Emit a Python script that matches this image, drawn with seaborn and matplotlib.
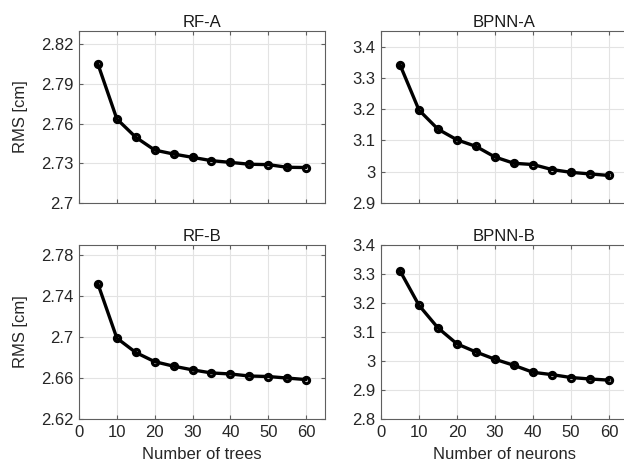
import numpy as np
import pandas as pd
import matplotlib
matplotlib.use("Agg")
import matplotlib.pyplot as plt
import seaborn as sns

n_values = [5, 10, 15, 20, 25, 30, 35, 40, 45, 50, 55, 60]
rf_a = [2.805, 2.7635, 2.7497, 2.740, 2.737, 2.7345, 2.732, 2.7307, 2.7293, 2.729, 2.727, 2.7268]
bpnn_a = [3.342, 3.197, 3.136, 3.102, 3.081, 3.047, 3.027, 3.023, 3.007, 2.998, 2.993, 2.988]
rf_b = [2.752, 2.699, 2.685, 2.676, 2.6716, 2.668, 2.665, 2.664, 2.662, 2.6615, 2.660, 2.6585]
bpnn_b = [3.311, 3.192, 3.114, 3.059, 3.031, 3.006, 2.985, 2.961, 2.953, 2.943, 2.938, 2.934]

titles = ["RF-A", "BPNN-A", "RF-B", "BPNN-B"]
xlabels = [None, None, "Number of trees", "Number of neurons"]
ylabels = ["RMS [cm]", None, "RMS [cm]", None]
yticks_list = [
    [2.7, 2.73, 2.76, 2.79, 2.82],
    [2.9, 3.0, 3.1, 3.2, 3.3, 3.4],
    [2.62, 2.66, 2.7, 2.74, 2.78],
    [2.8, 2.9, 3.0, 3.1, 3.2, 3.3, 3.4],
]
ylims = [(2.7, 2.83), (2.9, 3.45), (2.62, 2.79), (2.8, 3.4)]
xticks = [0, 10, 20, 30, 40, 50, 60]

sns.set_theme(style="white")
plt.rcParams["font.family"] = ["Liberation Sans", "DejaVu Sans"]

fig = plt.figure(figsize=(6.24, 4.69), dpi=100)
positions = [
    [79 / 624, 1 - 203 / 469, 246 / 624, 172 / 469],
    [381 / 624, 1 - 203 / 469, 247 / 624, 172 / 469],
    [79 / 624, 1 - 419 / 469, 246 / 624, 174 / 469],
    [381 / 624, 1 - 419 / 469, 247 / 624, 174 / 469],
]
series = [rf_a, bpnn_a, rf_b, bpnn_b]
spine_col = "#5f5f5f"
text_col = "#262626"

for i, (pos, vals) in enumerate(zip(positions, series)):
    ax = fig.add_axes(pos)
    df = pd.DataFrame({"n": n_values, "rms": vals})
    sns.lineplot(data=df, x="n", y="rms", ax=ax, color="black", linewidth=2.4,
                 marker="o", markersize=4.5, markerfacecolor="none",
                 markeredgecolor="black", markeredgewidth=2.2)
    ax.set_xlim(0, 65)
    ax.set_ylim(*ylims[i])
    ax.set_xticks(xticks)
    ax.set_yticks(yticks_list[i])
    ax.set_yticklabels([("%g" % v) for v in yticks_list[i]])
    if i < 2:
        ax.set_xticklabels([])
    ax.grid(True, color="#e3e3e3", linewidth=0.8)
    ax.set_axisbelow(True)
    for s in ax.spines.values():
        s.set_color(spine_col)
        s.set_linewidth(0.8)
        s.set_visible(True)
    ax.tick_params(direction="in", length=3, width=0.8, color=spine_col,
                   labelcolor=text_col, labelsize=12, top=True, right=True,
                   bottom=True, left=True, pad=4)
    ax.set_title(titles[i], fontsize=12, color="#1a1a1a", pad=3)
    ax.set_xlabel(xlabels[i] if xlabels[i] else "", fontsize=12, color=text_col, labelpad=5)
    ax.set_ylabel(ylabels[i] if ylabels[i] else "", fontsize=12, color=text_col, labelpad=9)

fig.savefig("out.png", dpi=100)
